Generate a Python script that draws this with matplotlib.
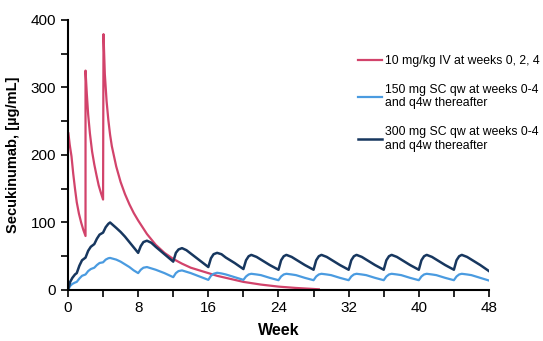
#!/usr/bin/env python3

import matplotlib
matplotlib.use("Agg")
import matplotlib.pyplot as plt

plt.rcParams["font.family"] = ["Liberation Sans", "DejaVu Sans"]

# Series (week, serum concentration in ug/mL)
iv_weeks = [0.05, 0.2, 0.4, 0.6, 0.8, 1.0, 1.25, 1.5, 1.75, 2.0,
            2.0, 2.15, 2.3, 2.5, 2.75, 3.0, 3.25, 3.5, 3.75, 4.0,
            4.05, 4.2, 4.4, 4.6, 4.8, 5.0, 5.5, 6.0, 6.5, 7.0, 7.5, 8.0,
            9.0, 10.0, 11.0, 12.0, 13.0, 14.0, 15.0, 16.0, 17.0, 18.0,
            20.0, 22.0, 24.0, 26.0, 28.0, 28.6]
iv_conc = [232, 215, 198, 172, 150, 130, 113, 100, 89, 80,
           325, 290, 260, 232, 205, 186, 170, 155, 144, 134,
           379, 320, 280, 252, 230, 213, 183, 160, 142, 127, 114, 103,
           83, 67, 55, 46, 39, 33, 29, 25, 21, 18,
           12, 8, 5, 3, 1.5, 1]

sc_weeks = [0, 0.25, 0.5, 0.8, 1.0, 1.3, 1.6, 2.0, 2.3, 2.6, 3.0,
            3.3, 3.6, 4.0, 4.3, 4.6, 4.8, 5.5, 6.0, 6.5, 7.0, 7.5, 8.0,
            8.3, 8.6, 9.0, 9.5, 10.0, 11.0, 12.0,
            12.3, 12.6, 13.0, 13.5, 14.0, 15.0, 16.0,
            16.3, 16.6, 17.0, 17.5, 18.0, 19.0, 20.0,
            20.3, 20.6, 20.9, 21.5, 22.0, 23.0, 24.0,
            24.3, 24.6, 24.9, 25.5, 26.0, 27.0, 28.0,
            28.3, 28.6, 28.9, 29.5, 30.0, 31.0, 32.0,
            32.3, 32.6, 32.9, 33.5, 34.0, 35.0, 36.0,
            36.3, 36.6, 36.9, 37.5, 38.0, 39.0, 40.0,
            40.3, 40.6, 40.9, 41.5, 42.0, 43.0, 44.0,
            44.3, 44.6, 44.9, 45.5, 46.0, 47.0, 48.0]

sc150_conc = [0, 6, 9, 11, 12, 17, 21, 23, 28, 31, 33,
              37, 40, 41, 45, 47, 47.5, 45, 42, 38, 34, 29, 25,
              30, 33, 34, 32, 30, 25, 19,
              25, 28, 29, 27, 25, 20, 15,
              21, 24, 25.5, 24.5, 23, 19, 15,
              20, 23, 24, 23, 22, 18, 14.5,
              20, 23, 24, 23, 22, 18, 14.5,
              20, 23, 24, 23, 22, 18, 14.5,
              20, 23, 24, 23, 22, 18, 14.5,
              20, 23, 24, 23, 22, 18, 14.5,
              20, 23, 24, 23, 22, 18, 14.5,
              20, 23, 24, 23, 22, 18, 14]

sc300_conc = [0, 12, 18, 23, 25, 36, 44, 48, 58, 64, 68,
              76, 82, 85, 93, 98, 100, 92, 86, 79, 71, 63, 55,
              65, 71, 73, 70, 64, 53, 42,
              55, 60, 62, 59, 54, 44, 34,
              47, 53, 55, 53, 48, 40, 31,
              44, 50, 52, 49, 45, 37, 30,
              44, 50, 52, 49, 45, 37, 30,
              44, 50, 52, 49, 45, 37, 30,
              44, 50, 52, 49, 45, 37, 30,
              44, 50, 52, 49, 45, 37, 30,
              44, 50, 52, 49, 45, 37, 30,
              44, 50, 52, 49, 45, 37, 28]

labels = ["10 mg/kg IV at weeks 0, 2, 4",
          "150 mg SC qw at weeks 0-4\nand q4w thereafter",
          "300 mg SC qw at weeks 0-4\nand q4w thereafter"]

fig = plt.figure(figsize=(5.43, 3.41), dpi=100)
ax = fig.add_axes([0.1252, 0.1496, 0.7753, 0.7918])

l1, = ax.plot(iv_weeks, iv_conc, color="#D2436B", lw=1.6)
l2, = ax.plot(sc_weeks, sc150_conc, color="#4A9BE0", lw=1.6)
l3, = ax.plot(sc_weeks, sc300_conc, color="#17375F", lw=1.8)

ax.set_xlim(0, 48)
ax.set_ylim(0, 400)
ax.set_xticks(range(0, 49, 8))
ax.set_xticks(range(4, 48, 8), minor=True)
ax.set_yticks(range(0, 401, 100))
ax.set_yticks(range(50, 400, 100), minor=True)
ax.tick_params(which="both", direction="out", length=5, width=1.2,
               labelsize=11, colors="black")
ax.tick_params(axis="x", pad=3)
for s in ["top", "right"]:
    ax.spines[s].set_visible(False)
for s in ["left", "bottom"]:
    ax.spines[s].set_linewidth(1.5)

ax.set_xlabel("Week", fontsize=11.5, fontweight="bold", labelpad=6)
ax.set_ylabel("Secukinumab, [µg/mL]", fontsize=10.5, fontweight="bold",
              labelpad=8)

fig.legend([l1, l2, l3], labels, loc="upper left",
           bbox_to_anchor=(0.650, 0.853), frameon=False, fontsize=8.8,
           handlelength=2.0, handletextpad=0.25, labelspacing=1.35,
           borderaxespad=0)

fig.savefig("out.png", dpi=100)
